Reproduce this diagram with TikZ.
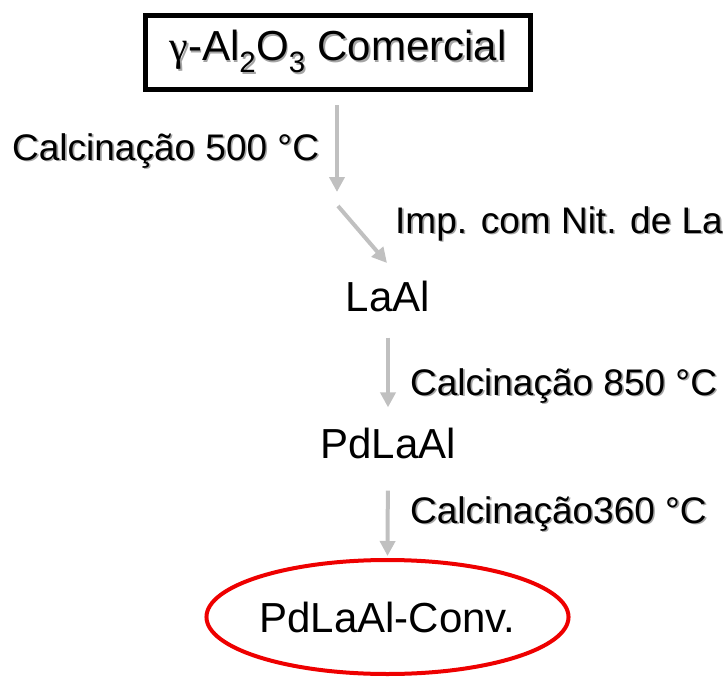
\documentclass[tikz,border=0pt]{standalone}
\usepackage{fontspec}
\setmainfont{Liberation Sans}
\newfontfamily\symbolfont{Liberation Serif}
\usetikzlibrary{arrows.meta,positioning,shapes.geometric}
\definecolor{arrowgray}{RGB}{192,192,192}
\definecolor{shadowgray}{RGB}{165,165,165}
\definecolor{ringred}{RGB}{238,0,0}
\newcommand\shadowed[1]{\rlap{\kern1.6pt\raisebox{-1.6pt}{\color{shadowgray}#1}}#1}
\tikzset{
  stage/.style={inner sep=0pt,font=\fontsize{42}{48}\selectfont},
  steplabel/.style={inner sep=0pt,anchor=base west,font=\fontsize{37}{44}\selectfont},
  flow/.style={draw=arrowgray,line width=4pt,-{Triangle[width=15pt,length=15pt]}}
}

\begin{document}
\begin{tikzpicture}[x=1pt,y=-1pt]
\useasboundingbox (0,0) rectangle (723,677);
\node[stage,draw,line width=5pt,minimum width=385pt,minimum height=74pt] (alumina) at (338,52.5) {\shadowed{{\symbolfont γ}-Al\textsubscript{2}O\textsubscript{3} Comercial}};
\node[stage,anchor=base] (laal) at (388,311) {LaAl};
\node[stage,anchor=base] (pdlaal) at (388,458) {PdLaAl};
\node[stage,draw=ringred,line width=4pt,ellipse,minimum width=362pt,minimum height=114pt] (conv) at (387.5,617) {PdLaAl-Conv.};
\node[steplabel] (calc500) at (12,160) {\shadowed{Calcinação 500 °C}};
\node[steplabel] (impla) at (395,233) {\shadowed{Imp. com Nit. de La}};
\node[steplabel] (calc850) at (410,395) {\shadowed{Calcinação 850 °C}};
\node[steplabel] (calc360) at (410,523) {\shadowed{Calcinação360 °C}};
\coordinate (turn1) at (337,192);
\coordinate (turn2) at (338,206);
\coordinate (laaltop) at (387,263);
\draw[flow,shorten <=13pt] (alumina.south -| turn1) -- (turn1);
\draw[flow] (turn2) -- (laaltop);
\draw[flow,shorten <=26pt,shorten >=20pt] (laal.south) -- (pdlaal.north);
\draw[flow,shorten <=32pt,shorten >=2pt] (pdlaal.south) -- (conv.north);
\end{tikzpicture}
\end{document}
